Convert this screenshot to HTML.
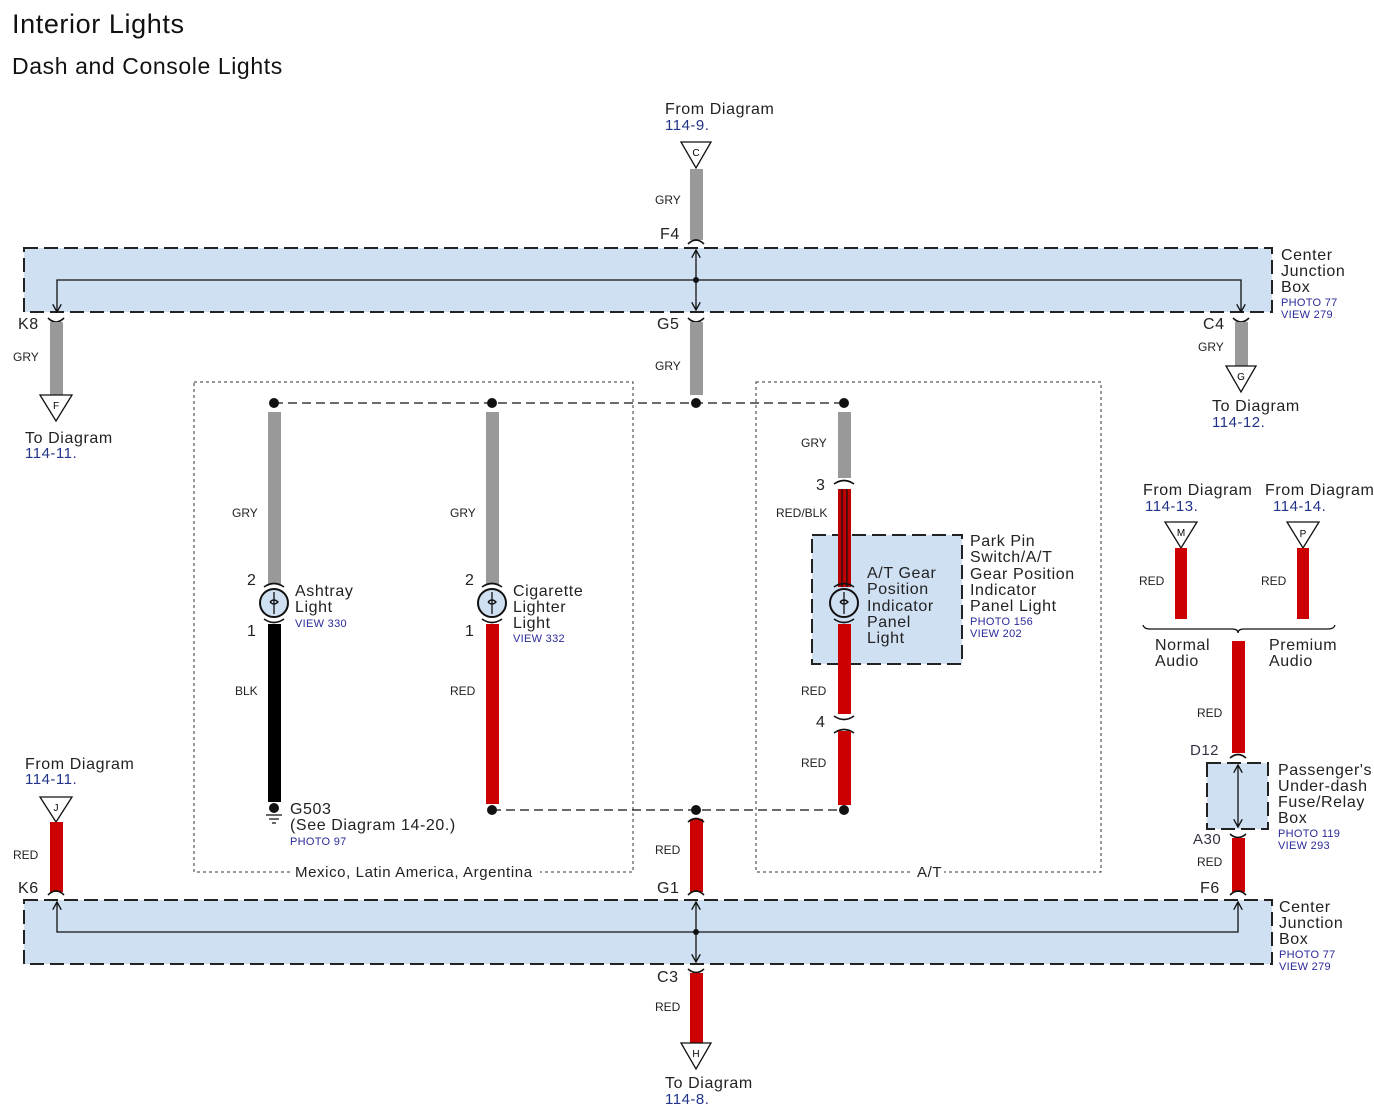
<!DOCTYPE html>
<html><head><meta charset="utf-8"><style>
html,body{margin:0;padding:0;background:#fff;}
svg{display:block;font-family:"Liberation Sans",sans-serif;}
.t{font-size:16px;fill:#222;letter-spacing:0.6px;}
.s{font-size:12px;fill:#222;}
.b{font-size:15px;fill:#223388;letter-spacing:0.5px;}
.p{font-size:11px;fill:#2a2a9a;letter-spacing:0.3px;}
.jb{fill:#cfe0f3;stroke:#222;stroke-width:2;stroke-dasharray:14,6;}
.dot{fill:none;stroke:#333;stroke-width:1;stroke-dasharray:3,3;}
.ln{stroke:#111;stroke-width:1.3;fill:none;}
.tri{fill:#fff;stroke:#111;stroke-width:1.3;}
.cap{stroke:#111;stroke-width:1.6;fill:none;}
</style></head><body>
<svg width="1374" height="1119" viewBox="0 0 1374 1119" xmlns="http://www.w3.org/2000/svg">
<defs>
<marker id="ar" viewBox="0 0 10 10" refX="9" refY="5" markerWidth="9" markerHeight="9" orient="auto-start-reverse" markerUnits="userSpaceOnUse"><path d="M0,0 L9,5 L0,10" fill="none" stroke="#111" stroke-width="1.5"/></marker>
</defs>
<text x="12" y="33" style="font-size:27px;letter-spacing:0.6px" fill="#111">Interior Lights</text>
<text x="12" y="74" style="font-size:23px;letter-spacing:0.6px" fill="#111">Dash and Console Lights</text>

<rect class="dot" x="194" y="382" width="439" height="490"/>
<rect class="dot" x="756" y="382" width="345" height="490"/>
<rect x="290" y="862" width="250" height="18" fill="#fff"/>
<text x="295" y="877" class="t" style="font-size:15px">Mexico, Latin America, Argentina</text>
<rect x="912" y="862" width="32" height="18" fill="#fff"/>
<text x="917" y="877" class="t" style="font-size:15px">A/T</text>

<rect class="jb" x="24" y="248" width="1248" height="64"/>
<path class="ln" d="M57,312 L57,280 L1241,280 L1241,312" marker-start="url(#ar)" marker-end="url(#ar)"/>
<line class="ln" x1="696" y1="250" x2="696" y2="310" marker-start="url(#ar)" marker-end="url(#ar)"/>
<circle cx="696" cy="280" r="3" fill="#111"/>
<text x="1281" y="260" class="t">Center</text><text x="1281" y="276" class="t">Junction</text><text x="1281" y="292" class="t">Box</text>
<text x="1281" y="306" class="p">PHOTO 77</text><text x="1281" y="318" class="p">VIEW 279</text>

<rect class="jb" x="24" y="900" width="1248" height="64"/>
<path class="ln" d="M57,902 L57,932 L1238,932 L1238,902" marker-start="url(#ar)" marker-end="url(#ar)"/>
<line class="ln" x1="696" y1="902" x2="696" y2="962" marker-start="url(#ar)" marker-end="url(#ar)"/>
<circle cx="696" cy="932" r="3" fill="#111"/>
<text x="1279" y="912" class="t">Center</text><text x="1279" y="928" class="t">Junction</text><text x="1279" y="944" class="t">Box</text>
<text x="1279" y="958" class="p">PHOTO 77</text><text x="1279" y="970" class="p">VIEW 279</text>

<text x="665" y="114" class="t">From Diagram</text><text x="665" y="130" class="b">114-9.</text>
<polygon class="tri" points="681,142 711,142 696,168"/><text x="696" y="156" text-anchor="middle" style="font-size:10px">C</text>
<rect x="690" y="169" width="13" height="71" fill="#999"/>
<text x="655" y="204" class="s">GRY</text>
<text x="660" y="239" class="t">F4</text>
<path class="cap" d="M688,244 Q696,236 704,244"/>
<path class="cap" d="M688,318 Q696,326 704,318"/>
<text x="657" y="329" class="t">G5</text>
<rect x="690" y="322" width="13" height="73" fill="#999"/>
<text x="655" y="370" class="s">GRY</text>

<text x="18" y="329" class="t">K8</text>
<path class="cap" d="M48,318 Q56,326 64,318"/>
<rect x="50" y="322" width="13" height="73" fill="#999"/>
<text x="13" y="361" class="s">GRY</text>
<polygon class="tri" points="40,395 72,395 56,421"/><text x="56" y="409" style="font-size:10px" text-anchor="middle">F</text>
<text x="25" y="443" class="t">To Diagram</text><text x="25" y="458" class="b">114-11.</text>

<text x="1203" y="329" class="t">C4</text>
<path class="cap" d="M1233,318 Q1241,326 1249,318"/>
<rect x="1235" y="322" width="13" height="44" fill="#999"/>
<text x="1198" y="351" class="s">GRY</text>
<polygon class="tri" points="1226,366 1256,366 1241,392"/><text x="1241" y="380" style="font-size:10px" text-anchor="middle">G</text>
<text x="1212" y="411" class="t">To Diagram</text><text x="1212" y="427" class="b">114-12.</text>

<line x1="274" y1="403" x2="844" y2="403" stroke="#111" stroke-width="1.3" stroke-dasharray="9,5"/>
<line x1="492" y1="810" x2="844" y2="810" stroke="#111" stroke-width="1.3" stroke-dasharray="9,5"/>
<circle cx="274" cy="403" r="5" fill="#111"/><circle cx="492" cy="403" r="5" fill="#111"/>
<circle cx="696" cy="403" r="5" fill="#111"/><circle cx="844" cy="403" r="5" fill="#111"/>
<circle cx="492" cy="810" r="5" fill="#111"/><circle cx="696" cy="810" r="5" fill="#111"/><circle cx="844" cy="810" r="5" fill="#111"/>

<rect x="268" y="412" width="13" height="172" fill="#999"/>
<text x="232" y="517" class="s">GRY</text>
<text x="247" y="585" class="t">2</text>
<path class="cap" d="M264,587 Q274,580 284,587"/>
<circle cx="274" cy="603" r="14" fill="#cfe0f3" stroke="#111" stroke-width="2"/>
<path class="ln" d="M274,592 L274,614 M270,602 Q274,598 278,602 Q274,606 270,602"/>
<path class="cap" d="M264,619 Q274,626 284,619"/>
<text x="247" y="636" class="t">1</text>
<rect x="268" y="624" width="13" height="178" fill="#000"/>
<text x="235" y="695" class="s">BLK</text>
<circle cx="274" cy="808" r="5" fill="#111"/>
<path class="ln" d="M266,815 L282,815 M269,819 L279,819 M272,823 L276,823"/>
<text x="290" y="814" class="t">G503</text>
<text x="290" y="830" class="t">(See Diagram 14-20.)</text>
<text x="290" y="845" class="p">PHOTO 97</text>
<text x="295" y="596" class="t">Ashtray</text><text x="295" y="612" class="t">Light</text><text x="295" y="627" class="p">VIEW 330</text>

<rect x="486" y="412" width="13" height="172" fill="#999"/>
<text x="450" y="517" class="s">GRY</text>
<text x="465" y="585" class="t">2</text>
<path class="cap" d="M482,587 Q492,580 502,587"/>
<circle cx="492" cy="603" r="14" fill="#cfe0f3" stroke="#111" stroke-width="2"/>
<path class="ln" d="M492,592 L492,614 M488,602 Q492,598 496,602 Q492,606 488,602"/>
<path class="cap" d="M482,619 Q492,626 502,619"/>
<text x="465" y="636" class="t">1</text>
<rect x="486" y="624" width="13" height="180" fill="#c00"/>
<text x="450" y="695" class="s">RED</text>
<text x="513" y="596" class="t">Cigarette</text><text x="513" y="612" class="t">Lighter</text><text x="513" y="628" class="t">Light</text><text x="513" y="642" class="p">VIEW 332</text>

<rect x="812" y="535" width="150" height="129" class="jb"/>
<rect x="838" y="412" width="13" height="66" fill="#999"/>
<text x="801" y="447" class="s">GRY</text>
<text x="816" y="490" class="t">3</text>
<path class="cap" d="M834,484 Q844,477 854,484"/>
<rect x="838" y="489" width="13" height="98" fill="#b00"/>
<line x1="842" y1="489" x2="842" y2="587" stroke="#111" stroke-width="1.2"/>
<line x1="847" y1="489" x2="847" y2="587" stroke="#111" stroke-width="1.2"/>
<text x="776" y="517" class="s">RED/BLK</text>
<path class="cap" d="M834,587 Q844,580 854,587"/>
<circle cx="844" cy="603" r="14" fill="#cfe0f3" stroke="#111" stroke-width="2"/>
<path class="ln" d="M844,592 L844,614 M840,602 Q844,598 848,602 Q844,606 840,602"/>
<path class="cap" d="M834,619 Q844,626 854,619"/>
<rect x="838" y="624" width="13" height="90" fill="#c00"/>
<text x="801" y="695" class="s">RED</text>
<path class="cap" d="M834,716 Q844,723 854,716"/>
<text x="816" y="727" class="t">4</text>
<path class="cap" d="M834,733 Q844,726 854,733"/>
<rect x="838" y="731" width="13" height="74" fill="#c00"/>
<text x="801" y="767" class="s">RED</text>
<text x="867" y="578" class="t">A/T Gear</text><text x="867" y="594" class="t">Position</text><text x="867" y="611" class="t">Indicator</text><text x="867" y="627" class="t">Panel</text><text x="867" y="643" class="t">Light</text>
<text x="970" y="546" class="t">Park Pin</text><text x="970" y="562" class="t">Switch/A/T</text><text x="970" y="579" class="t">Gear Position</text><text x="970" y="595" class="t">Indicator</text><text x="970" y="611" class="t">Panel Light</text>
<text x="970" y="625" class="p">PHOTO 156</text><text x="970" y="637" class="p">VIEW 202</text>

<rect x="690" y="819" width="13" height="73" fill="#c00"/>
<path class="cap" d="M688,822 Q696,815 704,822"/>
<text x="655" y="854" class="s">RED</text>
<text x="657" y="893" class="t">G1</text>
<path class="cap" d="M688,895 Q696,887 704,895"/>

<path class="cap" d="M688,969 Q696,976 704,969"/>
<text x="657" y="982" class="t">C3</text>
<rect x="690" y="973" width="13" height="70" fill="#c00"/>
<text x="655" y="1011" class="s">RED</text>
<polygon class="tri" points="681,1043 711,1043 696,1069"/><text x="696" y="1057" style="font-size:10px" text-anchor="middle">H</text>
<text x="665" y="1088" class="t">To Diagram</text><text x="665" y="1104" class="b">114-8.</text>

<text x="25" y="769" class="t">From Diagram</text><text x="25" y="784" class="b">114-11.</text>
<polygon class="tri" points="40,797 72,797 56,822"/><text x="56" y="811" style="font-size:10px" text-anchor="middle">J</text>
<rect x="50" y="822" width="13" height="70" fill="#c00"/>
<text x="13" y="859" class="s">RED</text>
<text x="18" y="893" class="t">K6</text>
<path class="cap" d="M48,895 Q56,887 64,895"/>

<text x="1143" y="495" class="t">From Diagram</text><text x="1145" y="511" class="b">114-13.</text>
<text x="1265" y="495" class="t">From Diagram</text><text x="1273" y="511" class="b">114-14.</text>
<polygon class="tri" points="1165,522 1197,522 1181,548"/><text x="1181" y="536" style="font-size:10px" text-anchor="middle">M</text>
<polygon class="tri" points="1287,522 1319,522 1303,548"/><text x="1303" y="537" style="font-size:10px" text-anchor="middle">P</text>
<rect x="1175" y="548" width="12" height="71" fill="#c00"/>
<rect x="1297" y="548" width="12" height="71" fill="#c00"/>
<text x="1139" y="585" class="s">RED</text><text x="1261" y="585" class="s">RED</text>
<path class="ln" d="M1143,625 Q1144,629 1150,629 L1232,629 Q1238,629 1238,633 Q1238,629 1244,629 L1328,629 Q1334,629 1335,625"/>
<text x="1155" y="650" class="t">Normal</text><text x="1155" y="666" class="t">Audio</text>
<text x="1269" y="650" class="t">Premium</text><text x="1269" y="666" class="t">Audio</text>
<rect x="1232" y="641" width="13" height="112" fill="#c00"/>
<text x="1197" y="717" class="s">RED</text>
<text x="1190" y="755" class="b" style="fill:#334">D12</text>
<path class="cap" d="M1230,758 Q1238,751 1246,758"/>
<rect class="jb" x="1207" y="763" width="61" height="66"/>
<line class="ln" x1="1238" y1="765" x2="1238" y2="827" marker-start="url(#ar)" marker-end="url(#ar)"/>
<path class="cap" d="M1230,834 Q1238,841 1246,834"/>
<text x="1193" y="844" class="b" style="fill:#334">A30</text>
<rect x="1232" y="838" width="13" height="54" fill="#c00"/>
<text x="1197" y="866" class="s">RED</text>
<text x="1200" y="893" class="t">F6</text>
<path class="cap" d="M1230,895 Q1238,887 1246,895"/>
<text x="1278" y="775" class="t">Passenger's</text><text x="1278" y="791" class="t">Under-dash</text><text x="1278" y="807" class="t">Fuse/Relay</text><text x="1278" y="823" class="t">Box</text>
<text x="1278" y="837" class="p">PHOTO 119</text><text x="1278" y="849" class="p">VIEW 293</text>
</svg>
</body></html>
